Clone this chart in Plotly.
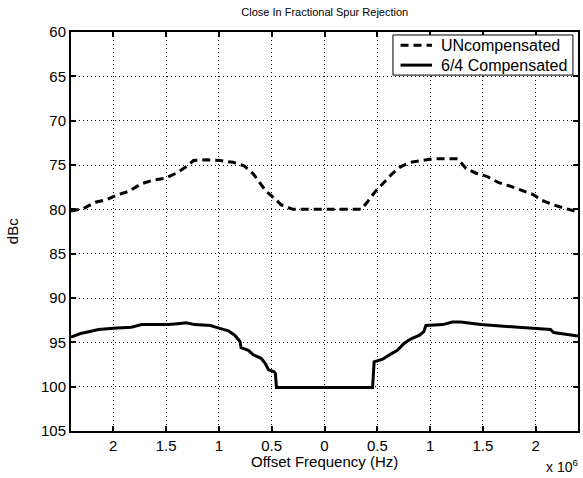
import plotly.graph_objects as go

# Offset frequency in units of 1e6 Hz (negative = left side of carrier)
uncomp_x = [-2.4, -2.28, -2.17, -2.06, -1.97, -1.86, -1.73, -1.62, -1.51, -1.40, -1.31, -1.24,
            -1.12, -0.99, -0.865, -0.76, -0.675, -0.61, -0.55, -0.47, -0.41, -0.30, -0.17, -0.05,
            0.09, 0.22, 0.35, 0.41, 0.48, 0.56, 0.64, 0.72, 0.81, 0.92, 1.02, 1.14, 1.26,
            1.34, 1.43, 1.54, 1.65, 1.76, 1.86, 1.97, 2.06, 2.17, 2.28, 2.4]
uncomp_dbc = [80.2, 79.9, 79.2, 78.9, 78.4, 78.0, 77.1, 76.7, 76.5, 75.9, 75.2, 74.5,
              74.4, 74.5, 74.7, 75.1, 76.0, 77.0, 78.0, 78.8, 79.5, 80.0, 80.0, 80.0,
              80.0, 80.0, 80.0, 79.1, 78.0, 77.0, 76.0, 75.2, 74.7, 74.5, 74.3, 74.3, 74.3,
              75.4, 75.9, 76.3, 77.0, 77.4, 77.8, 78.3, 79.0, 79.5, 79.9, 80.3]

comp_x = [-2.4, -2.31, -2.23, -2.14, -2.0, -1.83, -1.73, -1.48, -1.39, -1.31, -1.23,
          -1.08, -1.0, -0.91, -0.85, -0.80, -0.79, -0.72, -0.675, -0.60, -0.56, -0.53, -0.48,
          -0.465, -0.455, 0.0, 0.455, 0.47, 0.55, 0.63, 0.69, 0.755, 0.82, 0.90, 0.94, 0.96,
          1.12, 1.21, 1.29, 1.48, 1.70, 1.92, 2.14, 2.17, 2.29, 2.4]
comp_dbc = [94.4, 94.0, 93.8, 93.55, 93.4, 93.3, 93.0, 93.0, 92.9, 92.8, 93.0,
            93.1, 93.4, 93.7, 94.2, 94.9, 95.6, 95.9, 96.4, 96.8, 97.4, 98.1, 98.3,
            98.5, 100.1, 100.1, 100.1, 97.2, 96.9, 96.3, 95.9, 95.1, 94.6, 94.2, 93.8, 93.1,
            93.0, 92.7, 92.7, 93.0, 93.2, 93.4, 93.55, 93.9, 94.1, 94.3]

series_names = ["UNcompensated", "6/4 Compensated"]
x_tickvals = [-2, -1.5, -1, -0.5, 0, 0.5, 1, 1.5, 2]
x_ticktext = ["2", "1.5", "1", "0.5", "0", "0.5", "1", "1.5", "2"]
y_tickvals = [60, 65, 70, 75, 80, 85, 90, 95, 100, 105]

FONT = "Liberation Sans, Arial, Helvetica, sans-serif"
DASH = "8px,5px"

fig = go.Figure()
fig.add_trace(go.Scatter(x=uncomp_x, y=uncomp_dbc, mode="lines", name=series_names[0],
                         line=dict(color="black", width=3, dash=DASH)))
fig.add_trace(go.Scatter(x=comp_x, y=comp_dbc, mode="lines", name=series_names[1],
                         line=dict(color="black", width=3)))

axis_common = dict(
    showline=True, linecolor="black", linewidth=2, mirror="ticks",
    ticks="inside", ticklen=5, tickwidth=2, tickcolor="black",
    showgrid=True, gridcolor="black", gridwidth=1, griddash="1px,3px",
    zeroline=False, automargin=False,
    tickfont=dict(family=FONT, size=15, color="black"),
)

fig.update_layout(
    width=583, height=478,
    margin=dict(l=71, r=5, t=32, b=47),
    paper_bgcolor="white", plot_bgcolor="white",
    font=dict(family=FONT, size=15, color="black"),
    title=dict(text="Close In Fractional Spur Rejection", x=0.557, xanchor="center",
               y=0.975, yanchor="middle", font=dict(size=11)),
    xaxis=dict(range=[-2.4, 2.4], tickvals=x_tickvals, ticktext=x_ticktext, **axis_common),
    yaxis=dict(range=[105, 60], tickvals=y_tickvals, **axis_common),
    showlegend=False,
)

# Legend box (MATLAB style), drawn in paper coordinates
fig.add_shape(type="rect", xref="paper", yref="paper", x0=0.635, x1=0.990, y0=0.892, y1=0.9925,
              line=dict(color="black", width=1), fillcolor="white", layer="above")
legend_rows = [(0.967, DASH), (0.917, "solid")]
for (ly, dash), name in zip(legend_rows, series_names):
    fig.add_shape(type="line", xref="paper", yref="paper", x0=0.650, x1=0.712, y0=ly, y1=ly,
                  line=dict(color="black", width=3, dash=dash), layer="above")
    fig.add_annotation(text=name, xref="paper", yref="paper", x=0.726, y=ly,
                       xanchor="left", yanchor="middle", showarrow=False,
                       font=dict(size=16, family=FONT))

fig.add_annotation(text="Offset Frequency (Hz)", xref="paper", yref="paper",
                   x=0.5, y=-0.076, xanchor="center", yanchor="middle",
                   showarrow=False, font=dict(size=15, family=FONT))
fig.add_annotation(text="dBc", xref="paper", yref="paper", textangle=-90,
                   x=-0.115, y=0.5, xanchor="center", yanchor="middle",
                   showarrow=False, font=dict(size=15, family=FONT))
fig.add_annotation(text="x 10<sup>6</sup>", xref="paper", yref="paper",
                   x=1.003, y=-0.115, xanchor="right", yanchor="bottom",
                   showarrow=False, font=dict(size=14, family=FONT))

fig.write_html("out.html", config={"displayModeBar": False},
               post_script="document.body.style.margin='0';document.body.style.padding='0';")
